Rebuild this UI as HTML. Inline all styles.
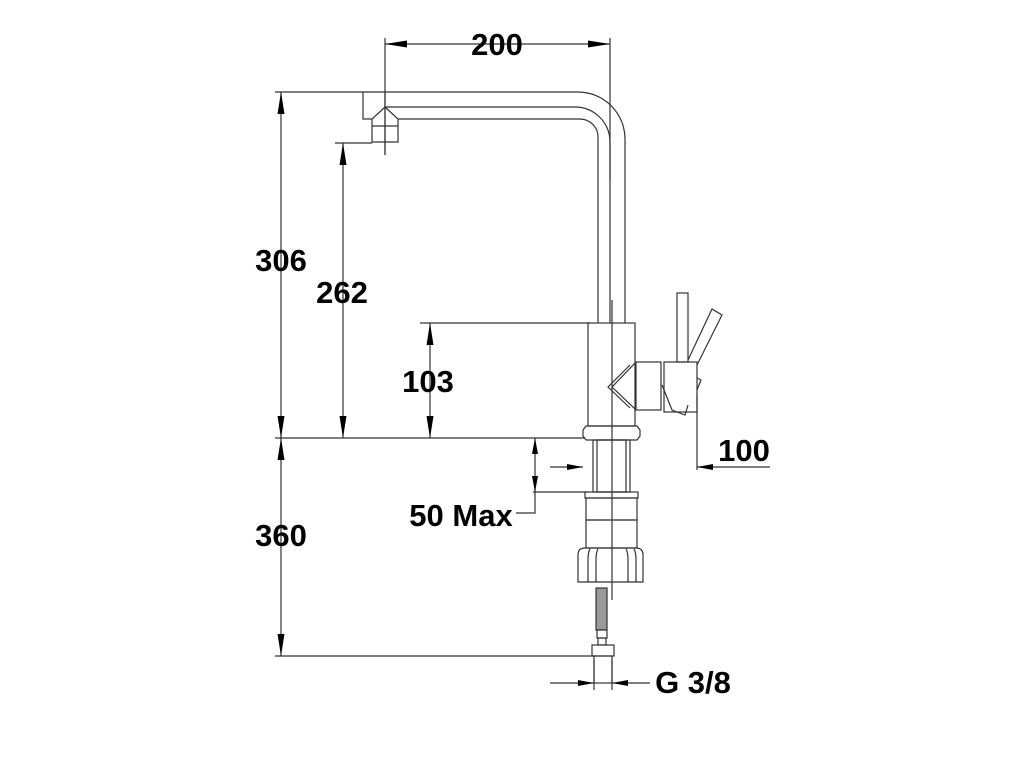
<!DOCTYPE html>
<html><head><meta charset="utf-8"><style>html,body{margin:0;padding:0;background:#fff}svg{display:block}text{font-family:"Liberation Sans",sans-serif;font-weight:bold;font-size:31px;fill:#000}</style></head><body>
<svg width="1024" height="768" viewBox="0 0 1024 768" xmlns="http://www.w3.org/2000/svg">
<defs>
<marker id="a" viewBox="0 0 10 10" preserveAspectRatio="none" refX="10" refY="5" markerWidth="16" markerHeight="6" markerUnits="userSpaceOnUse" orient="auto-start-reverse"><path d="M0,0L10,5L0,10z" fill="#000"/></marker>
<marker id="b" viewBox="0 0 10 10" preserveAspectRatio="none" refX="10" refY="5" markerWidth="22" markerHeight="7" markerUnits="userSpaceOnUse" orient="auto-start-reverse"><path d="M0,0L10,5L0,10z" fill="#000"/></marker>
</defs>
<g stroke="#333" stroke-width="1.2" fill="none">
<line x1="385" y1="38" x2="385" y2="155"/>
<line x1="610" y1="38" x2="610" y2="180"/>
<line x1="275" y1="92" x2="363" y2="92"/>
<line x1="275" y1="438" x2="585" y2="438"/>
<line x1="335" y1="143" x2="372" y2="143"/>
<line x1="420" y1="323" x2="590" y2="323"/>
<line x1="275" y1="656" x2="596" y2="656"/>
<line x1="533" y1="492" x2="588" y2="492"/>
<line x1="697" y1="395" x2="697" y2="470"/>
<line x1="594" y1="660" x2="594" y2="690"/>
<line x1="612" y1="660" x2="612" y2="690"/>
<line x1="385" y1="44" x2="610" y2="44" marker-start="url(#b)" marker-end="url(#b)"/>
<line x1="281" y1="92" x2="281" y2="438" marker-start="url(#b)" marker-end="url(#b)"/>
<line x1="343" y1="143" x2="343" y2="438" marker-start="url(#b)" marker-end="url(#b)"/>
<line x1="430" y1="323" x2="430" y2="438" marker-start="url(#b)" marker-end="url(#b)"/>
<line x1="281" y1="438" x2="281" y2="656" marker-start="url(#b)" marker-end="url(#b)"/>
<line x1="535" y1="465" x2="535" y2="438" marker-end="url(#a)"/>
<line x1="535" y1="465" x2="535" y2="492" marker-end="url(#a)"/>
<polyline points="535,492 535,513 516,513"/>
<line x1="550" y1="467" x2="583" y2="467" marker-end="url(#a)"/>
<line x1="770" y1="467" x2="697" y2="467" marker-end="url(#a)"/>
<line x1="550" y1="683" x2="594" y2="683" marker-end="url(#a)"/>
<line x1="650" y1="683" x2="612" y2="683" marker-end="url(#a)"/>
<line x1="612" y1="300" x2="612" y2="600"/>
<line x1="385" y1="92" x2="385" y2="155"/>
<path d="M363,92 H578 A47,47 0 0 1 625,139 V323"/>
<path d="M385,107 H575 A35,35 0 0 1 610,142 V323"/>
<path d="M398,119 H580 A18,18 0 0 1 598,137 V323"/>
<polyline points="363,92 363,119 372,119"/>
<path d="M372,119 L385,107 L398,119 V142 H372 Z"/>
<line x1="372" y1="126" x2="398" y2="126"/>
<rect x="588" y="323" width="47" height="103"/>
<path d="M586,426 H637 L640,430 V436 L637,440 H586 L583,436 V430 Z"/>
<rect x="593" y="440" width="37" height="52"/>
<rect x="597" y="440" width="29" height="52"/>
<rect x="585" y="492" width="53" height="6"/>
<rect x="586" y="498" width="51" height="22"/>
<rect x="586" y="520" width="51" height="28"/>
<path d="M578,582 V555 Q578,548 585,548 H636 Q643,548 643,555 V582 Z"/>
<path d="M590,549 Q588,552 588,560 V582 M598,549 Q596,552 596,560 V582 M626,549 Q628,552 628,560 V582 M634,549 Q636,552 636,560 V582"/>
<rect x="596" y="588" width="11" height="42" fill="#999"/>
<rect x="597" y="630" width="10" height="8"/>
<rect x="598" y="638" width="8" height="7"/>
<rect x="592" y="645" width="22" height="11"/>
<rect x="594" y="656" width="18" height="27"/>
<path d="M636,362 L612,387 L636,410"/>
<path d="M630,365 L608,387 L630,408"/>
<rect x="636" y="362" width="25" height="48"/>
<rect x="664" y="362" width="33" height="50"/>
<path d="M662,385 L672,410 L685,415 L688,405"/>
<rect x="677" y="293" width="11" height="69"/>
<path d="M688,360 L712,309 L722,315 L697,365"/>
<path d="M697,378 L701,380 L697,390"/>
</g>
<text x="497" y="55" text-anchor="middle">200</text>
<text x="281" y="271" text-anchor="middle">306</text>
<text x="342" y="303" text-anchor="middle">262</text>
<text x="428" y="392" text-anchor="middle">103</text>
<text x="281" y="546" text-anchor="middle">360</text>
<text x="461" y="526" text-anchor="middle">50 Max</text>
<text x="744" y="461" text-anchor="middle">100</text>
<text x="693" y="693" text-anchor="middle">G 3/8</text>
</svg>
</body></html>
